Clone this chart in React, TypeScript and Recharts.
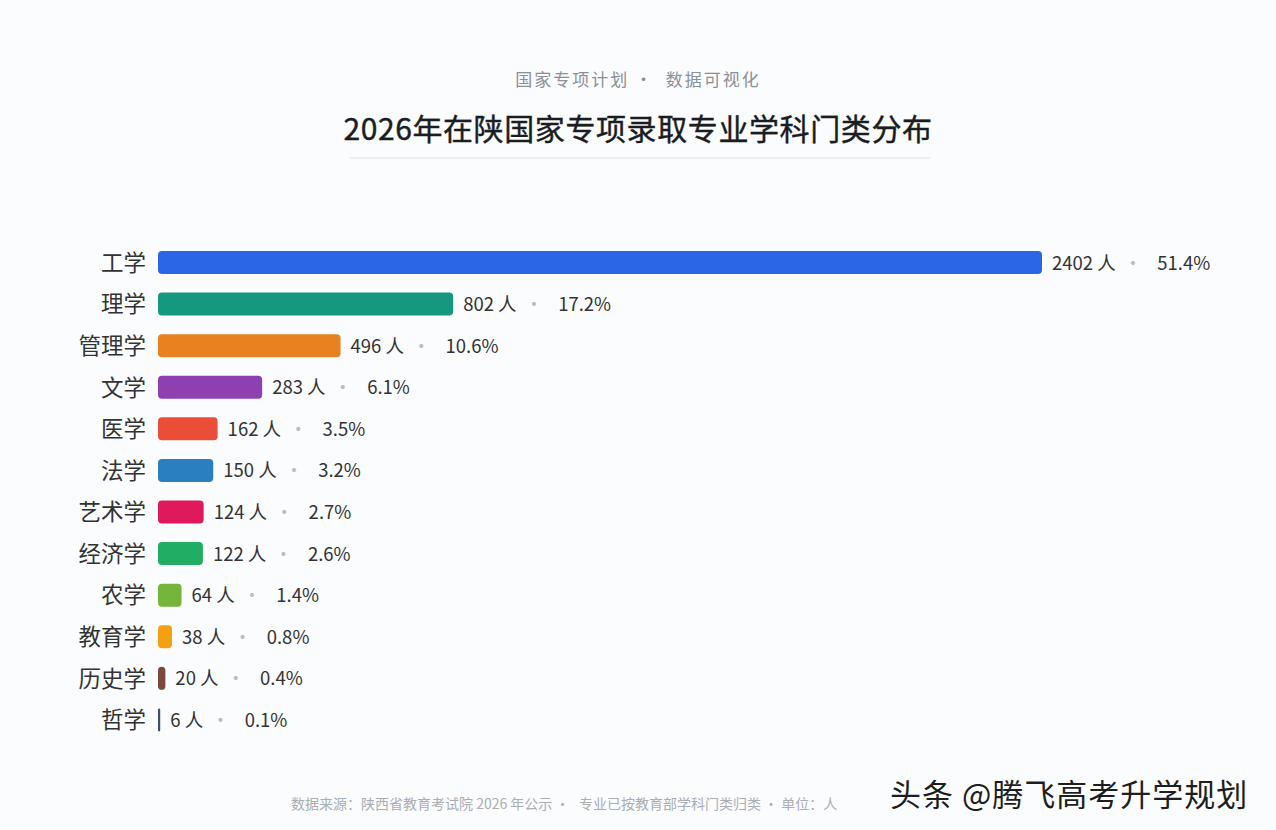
import { BarChart, Bar, XAxis, YAxis, Cell, LabelList } from 'recharts';

const categories = ['工学', '理学', '管理学', '文学', '医学', '法学', '艺术学', '经济学', '农学', '教育学', '历史学', '哲学'];
const counts = [2402, 802, 496, 283, 162, 150, 124, 122, 64, 38, 20, 6];
const percents = ['51.4%', '17.2%', '10.6%', '6.1%', '3.5%', '3.2%', '2.7%', '2.6%', '1.4%', '0.8%', '0.4%', '0.1%'];
const barColors = ['#2b66e6', '#16987f', '#e8811f', '#8e3fb0', '#ea4d38', '#2a7fc0', '#e0195c', '#22ae62', '#76b53c', '#f4a012', '#7a4a3c', '#3d4f6e'];

const FONT = '"Noto Sans CJK SC", "Noto Sans", sans-serif';

const data = categories.map((name, i) => ({ name, value: counts[i], pct: percents[i] }));

function CategoryTick({ x, y, payload }: any) {
  return (
    <text x={x - 4} y={y} dy={8} textAnchor="end" fontSize={22.5} fill="#333" fontFamily={FONT}>
      {payload.value}
    </text>
  );
}

function ValueLabel({ x, y, width, height, index }: any) {
  const row = data[index];
  return (
    <text x={x + width + 10} y={y + height / 2} dy={7} fontSize={18.5} fill="#333" fontFamily={FONT}>
      <tspan>{row.value} 人</tspan>
      <tspan fill="#bbb" dx={8}>·</tspan>
      <tspan dx={15}>{row.pct}</tspan>
    </text>
  );
}

export default function App() {
  return (
    <div
      style={{
        position: 'fixed', left: 0, top: 0, width: 1276, height: 830,
        background: '#fbfcfe', fontFamily: FONT, overflow: 'hidden',
      }}
    >
      <div style={{ position: 'absolute', top: 66, width: '100%', textAlign: 'center', fontSize: 17, color: '#8a8f98', letterSpacing: 2 }}>
        国家专项计划 · &nbsp;数据可视化
      </div>
      <div style={{ position: 'absolute', top: 105, width: '100%', textAlign: 'center', fontSize: 30, color: '#1a1d21', letterSpacing: 0.6, WebkitTextStroke: '0.4px #1a1d21' }}>
        2026年在陕国家专项录取专业学科门类分布
      </div>
      <div style={{ position: 'absolute', top: 157, left: 350, width: 580, height: 2, background: '#eceef2' }} />

      <div style={{ position: 'absolute', left: 0, top: 0 }}>
        <BarChart
          width={1276}
          height={830}
          data={data}
          layout="vertical"
          margin={{ top: 242, right: 234, bottom: 89, left: 0 }}
          barCategoryGap={9}
        >
          <XAxis type="number" domain={[0, 2402]} hide />
          <YAxis
            type="category"
            dataKey="name"
            width={158}
            axisLine={false}
            tickLine={false}
            tick={<CategoryTick />}
            interval={0}
          />
          <Bar dataKey="value" barSize={23} radius={4} isAnimationActive={false}>
            {data.map((d, i) => (
              <Cell key={d.name} fill={barColors[i]} />
            ))}
            <LabelList dataKey="value" content={<ValueLabel />} />
          </Bar>
        </BarChart>
      </div>

      <div style={{ position: 'absolute', top: 793, left: 291, fontSize: 14, color: '#a9adb4', whiteSpace: 'nowrap' }}>
        数据来源：陕西省教育考试院 2026 年公示 · &nbsp;&nbsp;专业已按教育部学科门类归类 · 单位：人
      </div>
      <div style={{ position: 'absolute', top: 770, left: 890, fontSize: 31, color: '#1e1e1e', whiteSpace: 'nowrap', letterSpacing: 1, textShadow: '0 0 3px #fff' }}>
        头条 @腾飞高考升学规划
      </div>
    </div>
  );
}
